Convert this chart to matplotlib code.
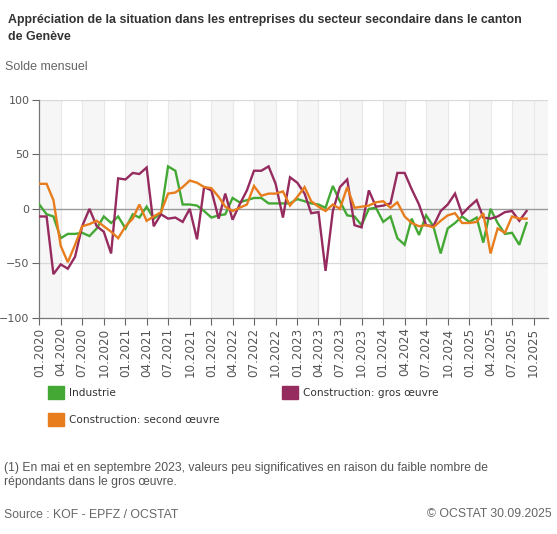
"""
Appréciation de la situation dans les entreprises du secteur secondaire (Genève)
Solde mensuel, 01.2020 - 09.2025, trois séries.
"""
import numpy as np
import pandas as pd
import matplotlib

matplotlib.use("Agg")
import matplotlib.pyplot as plt
import matplotlib.dates as mdates
from matplotlib.patches import Patch

plt.rcParams["font.family"] = ["DejaVu Sans"]

# ---- données ----
months = pd.date_range("2020-01-01", periods=69, freq="MS")

industrie = [4, -5, -7, -27, -23, -23, -22, -25, -18, -7, -13, -7,
             -18, -5, -8, 2, -9, -4, 39, 35, 4, 4, 3, -2,
             -8, -6, -5, 10, 6, 8, 10, 10, 5, 5, 5, 5,
             9, 7, 5, 4, 1, 21, 7, -6, -7, -15, 0, 1,
             -12, -7, -27, -33, -9, -24, -6, -16, -41, -18, -13, -7,
             -12, -8, -31, 0, -13, -23, -22, -33, -13]

gros_oeuvre = [-7, -7, -60, -51, -55, -44, -16, 0, -16, -21, -41, 28,
               27, 33, 32, 38, -16, -5, -9, -8, -12, 0, -28, 20,
               17, -9, 14, -10, 4, 17, 35, 35, 39, 23, -8, 29,
               24, 14, -4, -3, -57, -2, 20, 27, -15, -17, 17, 2,
               3, 5, 33, 33, 18, 4, -15, -16, -2, 4, 14, -5,
               2, 8, -8, -9, -7, -3, -2, -11, -2]

second_oeuvre = [23, 23, 8, -34, -49, -33, -16, -14, -11, -16, -21, -27,
                 -16, -9, 4, -11, -7, -3, 14, 15, 20, 26, 24, 20,
                 19, 11, 2, -2, 1, 4, 21, 12, 14, 14, 16, 3,
                 11, 20, 7, 2, -2, 4, 0, 20, 1, 2, 3, 6,
                 7, 1, 6, -7, -13, -16, -15, -17, -11, -6, -4, -13,
                 -13, -12, -4, -41, -18, -22, -7, -9, -9]

series_names = ["Industrie", "Construction: gros œuvre", "Construction: second œuvre"]
series_colors = ["#44a934", "#952b5e", "#e87d1e"]

tick_dates = pd.date_range("2020-01-01", "2025-10-01", freq="3MS")
tick_labels = [d.strftime("%m.%Y") for d in tick_dates]
y_ticks = [-100, -50, 0, 50, 100]

TITLE = ("Appréciation de la situation dans les entreprises du secteur secondaire dans le canton\n"
         "de Genève")
SUBTITLE = "Solde mensuel"
NOTE = ("(1) En mai et en septembre 2023, valeurs peu significatives en raison du faible nombre de\n"
        "répondants dans le gros œuvre.")
SOURCE = "Source : KOF - EPFZ / OCSTAT"
COPYRIGHT = "© OCSTAT 30.09.2025"

# ---- figure ----
W, H = 557, 534
fig = plt.figure(figsize=(W / 100, H / 100), dpi=100)
ax = fig.add_axes([39.3 / W, 1 - 317.7 / H, (548 - 39.3) / W, (317.7 - 100) / H])

# bandes alternées par trimestre
for k in range(0, len(tick_dates) - 1, 2):
    ax.axvspan(tick_dates[k], tick_dates[k + 1], color="#f6f6f6", lw=0, zorder=0)
ax.axvspan(tick_dates[-1], pd.Timestamp("2025-12-01"), color="#f6f6f6", lw=0, zorder=0)

for d in tick_dates[1:]:
    ax.axvline(d, color="#e8e8e8", lw=0.8, zorder=1)
for v in (-50, 50, 100):
    ax.axhline(v, color="#d8d8d8", lw=0.9, zorder=1)
ax.axhline(0, color="#9a9a9a", lw=1.0, zorder=1)

for vals, name, col in zip([industrie, gros_oeuvre, second_oeuvre], series_names, series_colors):
    ax.plot(months, vals, color=col, lw=1.7, label=name, zorder=3, solid_joinstyle="miter")

ax.set_xlim(pd.Timestamp("2020-01-01"), pd.Timestamp("2025-12-01"))
ax.set_ylim(-100, 100)
ax.set_xticks(tick_dates)
ax.set_xticklabels(tick_labels, rotation=90)
ax.set_yticks(y_ticks)
ax.tick_params(axis="both", colors="#666666", labelcolor="#555555",
               length=5, width=0.8, pad=2)
ax.tick_params(axis="x", labelsize=8.6)
ax.tick_params(axis="y", labelsize=8)
for s in ("top", "right"):
    ax.spines[s].set_visible(False)
for s in ("left", "bottom"):
    ax.spines[s].set_color("#777777")
    ax.spines[s].set_linewidth(0.9)

# légende
handles = [Patch(facecolor=c, edgecolor=c) for c in series_colors]
order = [0, 2, 1]
fig.legend([handles[i] for i in order], [series_names[i] for i in order],
           loc="upper left", bbox_to_anchor=(43 / W, 1 - 381 / H), ncol=2,
           frameon=False, fontsize=7.6, handlelength=1.5, handleheight=1.5,
           handletextpad=0.45, columnspacing=5.95, labelspacing=1.35, borderpad=0,
           labelcolor="#333333")

# textes
fig.text(8 / W, 1 - 14 / H, TITLE, ha="left", va="top", fontsize=8.9, fontweight="bold",
         family="Liberation Sans", color="#333333", linespacing=1.5)
fig.text(5 / W, 1 - 67 / H, SUBTITLE, ha="left", va="center", fontsize=9,
         family="Liberation Sans", color="#666666")
fig.text(4 / W, 1 - 462 / H, NOTE, ha="left", va="top", fontsize=8.7,
         family="Liberation Sans", color="#555555", linespacing=1.2)
fig.text(4 / W, 1 - 515 / H, SOURCE, ha="left", va="center", fontsize=8.8,
         family="Liberation Sans", color="#666666")
fig.text(552 / W, 1 - 514 / H, COPYRIGHT, ha="right", va="center", fontsize=8.8,
         family="Liberation Sans", color="#666666")

fig.savefig("out.png", dpi=100, facecolor="white")
